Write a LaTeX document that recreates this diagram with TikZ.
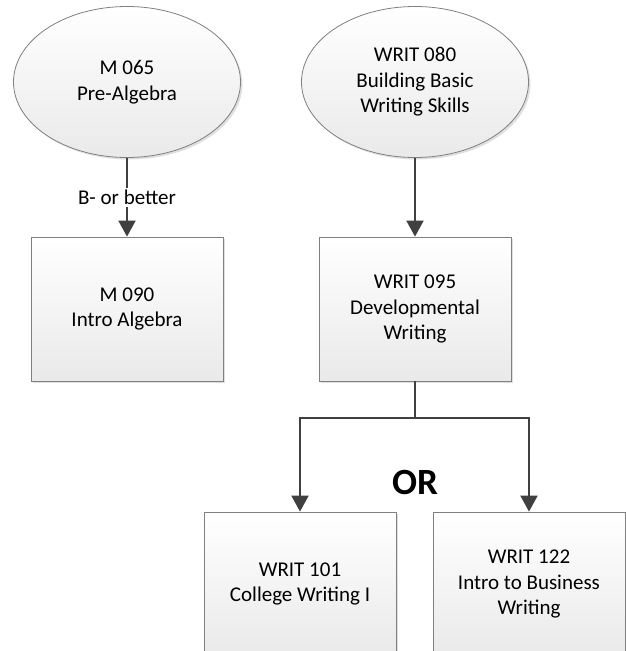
\documentclass[tikz,border=0pt]{standalone}
\usepackage{fontspec}
\setmainfont{Carlito}
\usepackage{tikz}
\usetikzlibrary{shapes.geometric,arrows.meta,shadows}

\definecolor{edgegray}{HTML}{808080}
\definecolor{linegray}{HTML}{404040}

\begin{document}
\begin{tikzpicture}[x=1pt,y=-1pt,
		course/.style={draw=edgegray, line width=0.8pt, top color=white, bottom color=gray!17,
			drop shadow={shadow xshift=2pt, shadow yshift=-2pt, opacity=0.25},
			align=center, font=\fontsize{21}{25.5}\selectfont},
		entry/.style={course, ellipse, minimum width=227pt, minimum height=151pt, inner sep=0pt},
		box/.style={course, rectangle, minimum width=192pt, minimum height=144pt, inner sep=0pt},
		conn/.style={draw=linegray, line width=2pt, -{Triangle[width=17pt,length=16pt]}},
		lbl/.style={fill=white, inner sep=2pt, font=\fontsize{21}{25.5}\selectfont}]
	\useasboundingbox (0,0) rectangle (626,651);
	\clip (0,0) rectangle (626,651);
	\fill[white] (0,0) rectangle (626,651);
	\node[entry] (prealg) at (127,82) {M 065\\Pre-Algebra};
	\node[entry] (basic) at (415,82) {WRIT 080\\Building Basic\\Writing Skills};
	\node[box] (introalg) at (127,309) {M 090\\Intro Algebra};
	\node[box] (devel) at (415,309) {WRIT 095\\Developmental\\Writing};
	\node[box] (college) at (300,584) {WRIT 101\\College Writing I};
	\node[box] (business) at (529,584) {WRIT 122\\Intro to Business\\Writing};
	\coordinate (split) at (415,418);
	\node[font=\fontsize{37}{44}\selectfont\bfseries] (or) at (415,482) {OR};
	\draw[conn] (prealg) -- node[lbl] {B- or better} (introalg);
	\draw[conn] (basic) -- (devel);
	\draw[draw=linegray, line width=2pt] (devel.south) -- (split);
	\draw[conn] (split) -| (college.north);
	\draw[conn] (split) -| (business.north);
\end{tikzpicture}
\end{document}
